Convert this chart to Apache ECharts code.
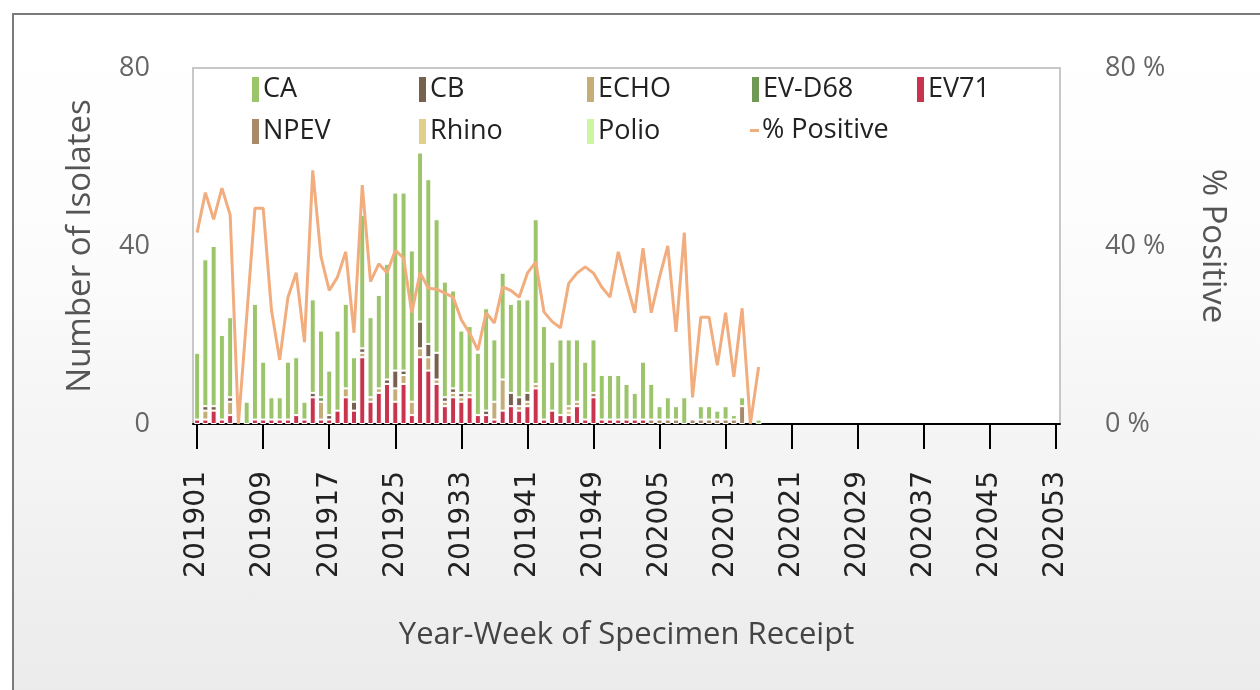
<!DOCTYPE html>
<html>
<head>
<meta charset="utf-8">
<title>Enterovirus isolates by week</title>
<script src="https://cdn.jsdelivr.net/npm/echarts@6/dist/echarts.min.js"></script>
<style>
  html, body { margin: 0; padding: 0; background: #fff; overflow: hidden; }
  #frame {
    position: absolute; left: 12px; top: 13px; width: 1400px; height: 800px;
    border: 2px solid #7a7a7a;
    background: linear-gradient(#ffffff 0px, #fdfdfd 200px, #ebebeb 680px);
  }
  #main { position: absolute; left: 0; top: 0; width: 1260px; height: 690px; }
</style>
</head>
<body>
<div id="frame"></div>
<div id="main"></div>
<script>
// weeks 2019-01 .. 2020-53
const weeks = [];
for (let w = 1; w <= 52; w++) weeks.push('2019' + String(w).padStart(2, '0'));
for (let w = 1; w <= 53; w++) weeks.push('2020' + String(w).padStart(2, '0'));

// isolates per week (201901 .. 202017)
const ca = [15, 33, 36, 19, 18, 0, 5, 26, 13, 5, 5, 13, 13, 4, 21, 15, 10, 18, 19, 10,
  30, 18, 21, 26, 40, 40, 34, 38, 37, 30, 26, 22, 14, 15, 14, 23, 14, 24, 20, 22,
  21, 37, 21, 11, 17, 15, 14, 13, 12, 10, 10, 10, 8, 6, 13, 8, 3, 5, 3, 6,
  0, 3, 3, 2, 3, 1, 2, 0, 1];
const cb = [0, 1, 1, 0, 1, 0, 0, 0, 0, 0, 0, 0, 0, 0, 1, 0, 1, 0, 0, 2,
  1, 0, 0, 1, 4, 1, 0, 6, 3, 6, 1, 1, 1, 0, 0, 1, 0, 0, 3, 2,
  2, 0, 0, 0, 0, 0, 0, 0, 0, 0, 0, 0, 0, 0, 0, 0, 0, 0, 0, 0,
  0, 0, 0, 0, 0, 0, 0, 0, 0];
const echo = [0, 2, 0, 0, 3, 0, 0, 0, 0, 0, 0, 0, 0, 0, 0, 4, 0, 0, 2, 0,
  1, 1, 1, 0, 3, 2, 3, 2, 3, 1, 1, 1, 1, 1, 0, 0, 4, 7, 0, 1,
  1, 1, 0, 0, 0, 1, 1, 0, 0, 0, 0, 0, 0, 0, 0, 0, 0, 0, 0, 0,
  0, 0, 0, 0, 0, 0, 0, 0, 0];
const evd68 = [0, 0, 0, 0, 0, 0, 0, 0, 0, 0, 0, 0, 0, 0, 0, 1, 0, 0, 0, 0,
  0, 0, 0, 0, 0, 0, 0, 0, 0, 0, 0, 0, 0, 0, 0, 0, 0, 0, 0, 0,
  0, 0, 0, 0, 0, 0, 0, 0, 0, 0, 0, 0, 0, 0, 0, 0, 0, 0, 0, 0,
  0, 0, 0, 0, 0, 0, 0, 0, 0];
const ev71 = [1, 1, 3, 1, 2, 0, 0, 1, 1, 1, 1, 1, 2, 1, 6, 1, 1, 3, 6, 3,
  15, 5, 7, 9, 5, 9, 2, 15, 12, 9, 4, 6, 5, 6, 2, 2, 1, 3, 4, 3,
  4, 8, 1, 3, 2, 2, 4, 1, 6, 1, 1, 1, 1, 1, 1, 0, 0, 0, 0, 0,
  0, 0, 0, 0, 0, 0, 0, 0, 0];
const npev = [0, 0, 0, 0, 0, 0, 0, 0, 0, 0, 0, 0, 0, 0, 0, 0, 0, 0, 0, 0,
  0, 0, 0, 0, 0, 0, 0, 0, 0, 0, 0, 0, 0, 0, 0, 0, 0, 0, 0, 0,
  0, 0, 0, 0, 0, 0, 0, 0, 1, 0, 0, 0, 0, 0, 0, 1, 1, 1, 1, 0,
  1, 1, 1, 1, 1, 1, 4, 0, 0];
const rhino = [0, 0, 0, 0, 0, 0, 0, 0, 0, 0, 0, 0, 0, 0, 0, 0, 0, 0, 0, 0,
  0, 0, 0, 0, 0, 0, 0, 0, 0, 0, 0, 0, 0, 0, 0, 0, 0, 0, 0, 0,
  0, 0, 0, 0, 0, 1, 0, 0, 0, 0, 0, 0, 0, 0, 0, 0, 0, 0, 0, 0,
  0, 0, 0, 0, 0, 0, 0, 0, 0];
const polio = [];
// % positive
const pctPositive = [43, 52, 46, 53, 47, 0, 24, 48.5, 48.5, 25.6, 14.4, 28.5, 34, 18.4, 57, 37.6, 30, 33, 38.7, 20.5,
  53.7, 32, 36, 34, 39, 37.3, 25, 34, 30.5, 30.3, 29.4, 28.5, 23.4, 20.4, 16.6, 25, 22.7, 30.8, 30, 28.5,
  33.9, 36.4, 25.2, 23, 21.6, 31.6, 33.9, 35.3, 33.9, 30.8, 28.5, 38.7, 31.6, 25, 39.5, 25, 33, 40, 20.7, 43,
  6, 24, 24, 13.2, 25, 10.6, 26, 0, 12.8];

const legendOrder = ['CA', 'CB', 'ECHO', 'EV-D68', 'EV71', 'NPEV', 'Rhino', 'Polio', '% Positive'];
const colors = {
  'CA': '#9cc46a', 'CB': '#76604e', 'ECHO': '#c4ad78', 'EV-D68': '#6e9a55',
  'EV71': '#c8344e', 'NPEV': '#a8896a', 'Rhino': '#e2cf8a', 'Polio': '#ccf7a0',
  '% Positive': '#f2ad7e'
};

function pad(arr) {
  const out = [];
  for (let i = 0; i < weeks.length; i++) out.push(i < arr.length && arr[i] ? arr[i] : null);
  return out;
}
function padLine(arr) {
  const out = [];
  for (let i = 0; i < weeks.length; i++) out.push(i < arr.length ? arr[i] : null);
  return out;
}

// stack order: first one sits at the bottom
const stackList = [
  ['EV71', ev71], ['NPEV', npev], ['Rhino', rhino], ['ECHO', echo],
  ['CB', cb], ['EV-D68', evd68], ['Polio', polio], ['CA', ca]
];

const series = stackList.map(function (s) {
  return {
    name: s[0],
    type: 'bar',
    stack: 'iso',
    barWidth: 6,
    data: pad(s[1]),
    itemStyle: { color: colors[s[0]], borderColor: '#ffffff', borderWidth: 1 }
  };
});
series.push({
  name: '% Positive',
  type: 'line',
  yAxisIndex: 1,
  showSymbol: false,
  symbol: 'none',
  data: padLine(pctPositive),
  lineStyle: { color: colors['% Positive'], width: 3 },
  itemStyle: { color: colors['% Positive'] },
  z: 5
});

// legend: one small legend per slot so columns line up
const slotX = [250, 417, 585, 750, 915];
const legends = legendOrder.map(function (name, i) {
  const row = i < 5 ? 0 : 1;
  const col = i < 5 ? i : i - 5;
  const isLine = name === '% Positive';
  return {
    data: [name],
    left: slotX[col],
    top: row === 0 ? 75 : 117,
    padding: 0,
    icon: 'rect',
    itemWidth: 9,
    itemHeight: isLine ? 3 : 27,
    selectedMode: false,
    textStyle: { fontSize: 27, color: '#222', fontFamily: 'Open Sans', padding: [0, 0, 0, -2] }
  };
});

const chart = echarts.init(document.getElementById('main'), null, { renderer: 'canvas' });
chart.setOption({
  animation: false,
  backgroundColor: 'transparent',
  color: legendOrder.map(function (n) { return colors[n]; }),
  legend: legends,
  grid: {
    left: 193, right: 200, top: 68, bottom: 266,
    show: true, backgroundColor: '#ffffff', borderColor: '#c8c8c8', borderWidth: 2
  },
  xAxis: {
    type: 'category',
    data: weeks,
    boundaryGap: true,
    name: 'Year-Week of Specimen Receipt',
    nameLocation: 'middle',
    nameGap: 196,
    nameTextStyle: { fontSize: 31, color: '#444', fontFamily: 'Open Sans' },
    axisLine: { show: true, lineStyle: { color: '#000', width: 2 } },
    axisTick: { show: true, inside: false, interval: 7, alignWithLabel: true, length: 25, lineStyle: { color: '#000', width: 2 } },
    axisLabel: { interval: 7, rotate: 90, margin: 47, fontSize: 28, color: '#222', fontFamily: 'DejaVu Sans' },
    splitLine: { show: false }
  },
  yAxis: [
    {
      type: 'value', min: 0, max: 80, interval: 40,
      name: 'Number of Isolates',
      nameLocation: 'middle',
      nameGap: 96,
      nameTextStyle: { fontSize: 33, color: '#555', fontFamily: 'Open Sans' },
      axisLine: { show: false }, axisTick: { show: false },
      splitLine: { show: false },
      axisLabel: { fontSize: 27, color: '#666', margin: 43, fontFamily: 'Open Sans' }
    },
    {
      type: 'value', min: 0, max: 80, interval: 40,
      name: '% Positive',
      nameLocation: 'middle',
      nameRotate: -90,
      nameGap: 136,
      nameTextStyle: { fontSize: 33, color: '#555', fontFamily: 'Open Sans' },
      axisLine: { show: false }, axisTick: { show: false },
      splitLine: { show: false },
      axisLabel: { fontSize: 27, color: '#666', margin: 45, fontFamily: 'Open Sans', formatter: '{value} %' }
    }
  ],
  series: series
});
</script>
</body>
</html>
